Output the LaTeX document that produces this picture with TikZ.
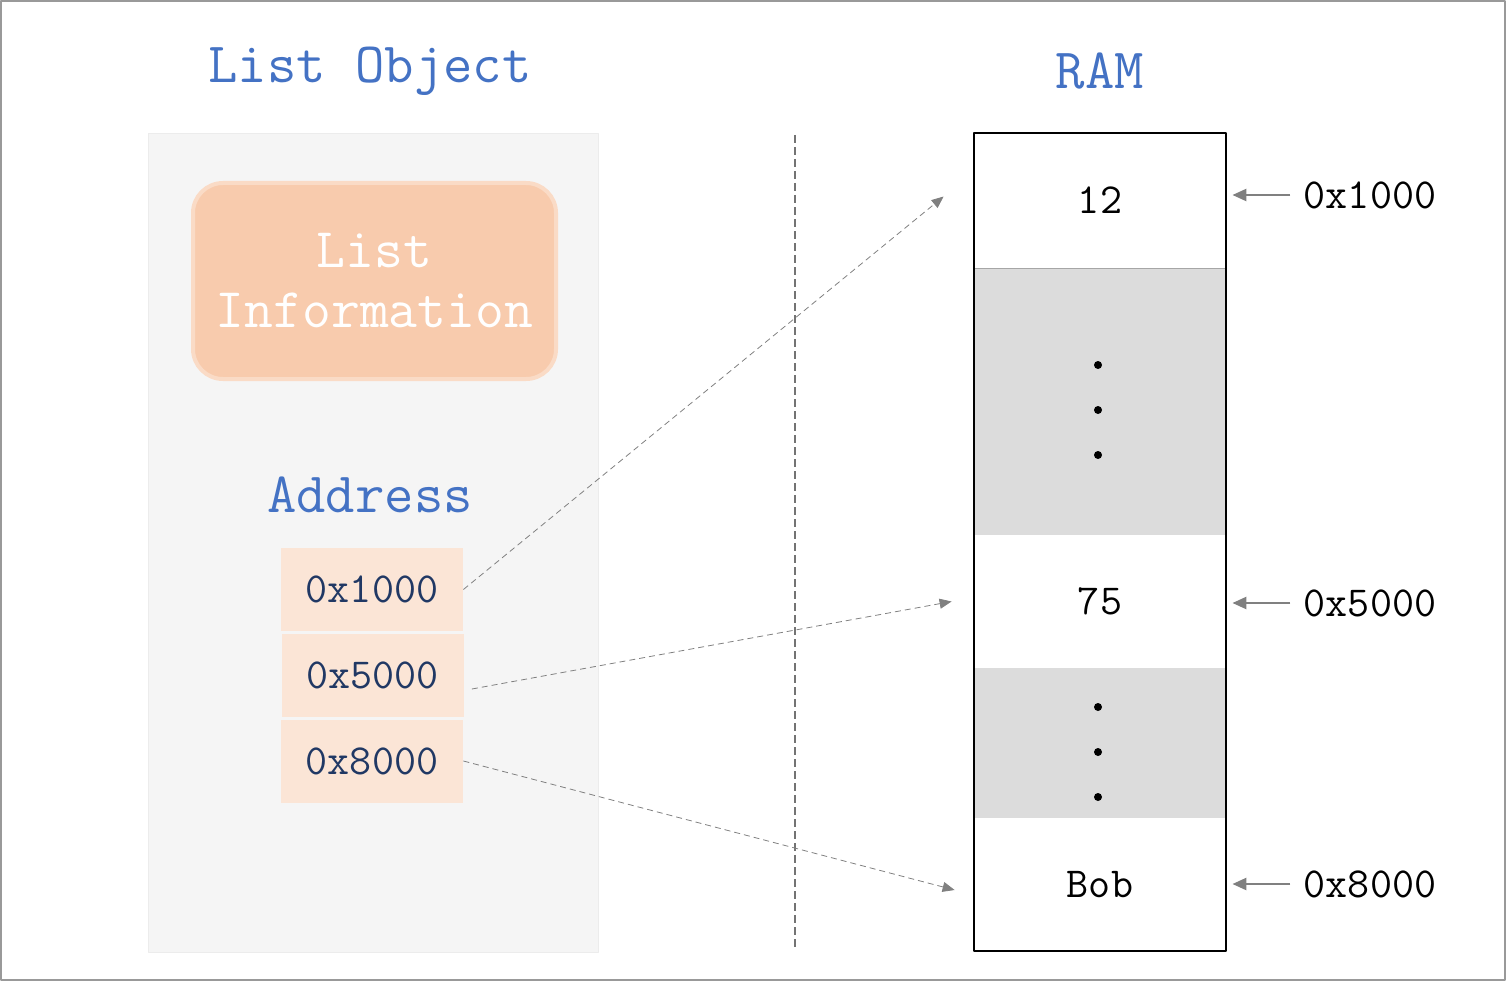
\documentclass[tikz,border=0pt]{standalone}
\usepackage{fontspec}
\setmainfont{Latin Modern Mono}
\usetikzlibrary{arrows.meta}
\definecolor{titleblue}{HTML}{4472C4}
\definecolor{navy}{HTML}{203864}
\definecolor{peach}{HTML}{F8CBAD}
\definecolor{lightpeach}{HTML}{FBE5D6}
\definecolor{panelgray}{HTML}{F5F5F5}
\definecolor{cellgray}{HTML}{DCDCDC}
\begin{document}
\begin{tikzpicture}[x=0.5pt,y=-0.5pt,line join=round,>={Triangle[length=6pt,width=5pt]},
  title/.style={text=titleblue,font=\fontsize{28.5}{34}\selectfont},
  info/.style={fill=peach,draw=peach!70,line width=2pt,rounded corners=15pt,text=white,align=center,
    minimum width=181.5pt,minimum height=98pt,font=\fontsize{28}{30}\selectfont},
  addr/.style={fill=lightpeach,text=navy,minimum width=91pt,minimum height=41.5pt,inner sep=0pt,
    font=\fontsize{21.4}{24}\selectfont},
  cell/.style={fill=white,minimum width=126pt,inner sep=0pt,font=\fontsize{21.4}{24}\selectfont},
  gap/.style={fill=cellgray,minimum width=126pt,inner sep=0pt},
  ptr/.style={inner sep=0pt,font=\fontsize{21.4}{24}\selectfont},
  link/.style={->,draw=gray,line width=0.4pt,densely dashed},
  mark arrow/.style={-{Triangle[length=7pt,width=6pt]},draw=gray,line width=1.2pt,shorten <=6.5pt,shorten >=3pt}]
\useasboundingbox (0,0) rectangle (1507,984);
\draw[gray!80,line width=1pt] (1,1) rectangle (1505,980);
% left side: list object
\node[title] (tlist) at (370,71) {List Object};
\filldraw[fill=panelgray,draw=gray!15] (148,133) rectangle (598,952);
\node[info] (info) at (374.5,281) {List\\Information};
\node[title] (taddr) at (370,495) {Address};
\node[addr] (a1) at (372,589.5) {0x1000};
\node[addr] (a2) at (372.5,675) {0x5000};
\node[addr] (a3) at (372,761) {0x8000};
% divider
\draw[gray!90!black,line width=0.9pt,dash pattern=on 4pt off 2pt] (795,135) -- (795,947);
% right side: ram
\node[title] (tram) at (1100,71) {RAM};
\node[cell,minimum height=67.5pt] (c12) at (1100,200.5) {12};
\node[gap,minimum height=133.5pt] (g1) at (1100,401.5) {};
\node[cell,minimum height=66.5pt] (c75) at (1100,601.5) {75};
\node[gap,minimum height=75pt] (g2) at (1100,743) {};
\node[cell,minimum height=66.5pt] (cbob) at (1100,884.5) {Bob};
\draw[gray!70,line width=0.8pt] (c12.south west) -- (c12.south east);
\draw[black,line width=1pt] (c12.north west) rectangle (cbob.south east);
\foreach \y in {365,410,455,707,752,797}
  \fill (1098,\y) circle (2pt);
% addresses on the right
\node[ptr] (r1) at (1370,195) {0x1000};
\node[ptr] (r2) at (1370,603) {0x5000};
\node[ptr] (r3) at (1370,884) {0x8000};
\draw[mark arrow] (r1.west) -- (c12.east |- r1.west);
\draw[mark arrow] (r2.west) -- (c75.east |- r2.west);
\draw[mark arrow] (r3.west) -- (cbob.east |- r3.west);
% pointers
\draw[link] (a1.east) -- ([xshift=-15pt,yshift=2pt]c12.west);
\draw[link] ([xshift=4pt,yshift=-7pt]a2.east) -- ([xshift=-11pt]c75.west);
\draw[link] (a3.east) -- ([xshift=-9.5pt,yshift=-2.75pt]cbob.west);
\end{tikzpicture}
\end{document}
